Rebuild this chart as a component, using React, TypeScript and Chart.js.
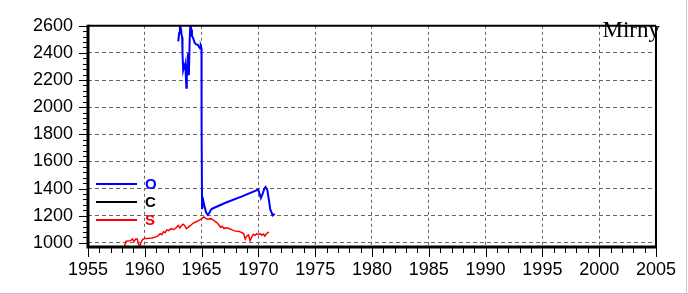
import React, { useEffect, useRef } from "react";
import { Chart, registerables } from "chart.js";

Chart.register(...registerables);

// ---- data ----
const xTickYears = [1955, 1960, 1965, 1970, 1975, 1980, 1985, 1990, 1995, 2000, 2005];
const yTickValues = [1000, 1200, 1400, 1600, 1800, 2000, 2200, 2400, 2600];

const oYears = [
  1962.94, 1963.03, 1963.09, 1963.18, 1963.23, 1963.29, 1963.32, 1963.38, 1963.46, 1963.52,
  1963.58, 1963.61, 1963.66, 1963.7, 1963.75, 1963.81, 1963.87, 1963.89, 1963.95, 1964.01,
  1964.09, 1964.15, 1964.27, 1964.39, 1964.52, 1964.67, 1964.76, 1964.87, 1964.93, 1964.99,
  1965.0, 1965.04, 1965.16, 1965.25, 1965.39, 1965.54, 1965.68, 1965.82, 1965.97, 1967.11,
  1968.56, 1969.99, 1970.14, 1970.22, 1970.37, 1970.52, 1970.63, 1970.78, 1970.92, 1971.04,
  1971.15, 1971.26, 1971.43,
];
const oValues = [
  2486, 2546, 2597, 2580, 2538, 2515, 2387, 2275, 2305, 2290,
  2317, 2236, 2143, 2290, 2236, 2398, 2317, 2236, 2492, 2620,
  2572, 2526, 2507, 2475, 2463, 2461, 2445, 2433, 2449, 2433,
  1864, 1248, 1307, 1272, 1225, 1206, 1220, 1244, 1253, 1295,
  1342, 1392, 1353, 1330, 1360, 1399, 1411, 1392, 1318, 1248,
  1225, 1202, 1213,
];

const cYears: number[] = [];
const cValues: number[] = [];

const sYears = [
  1958.2, 1958.34, 1958.5, 1958.77, 1958.91, 1959.05, 1959.2, 1959.34, 1959.43, 1959.55,
  1959.65, 1959.78, 1959.92, 1960.07, 1960.35, 1960.64, 1960.9, 1961.16, 1961.36, 1961.5,
  1961.65, 1961.8, 1961.93, 1962.1, 1962.31, 1962.5, 1962.65, 1962.8, 1962.94, 1963.09,
  1963.25, 1963.37, 1963.5, 1963.66, 1963.8, 1964.04, 1964.24, 1964.52, 1964.81, 1965.02,
  1965.19, 1965.35, 1965.54, 1965.82, 1966.11, 1966.4, 1966.68, 1966.8, 1966.98, 1967.15,
  1967.41, 1967.69, 1967.98, 1968.3, 1968.56, 1968.7, 1968.84, 1968.98, 1969.13, 1969.27,
  1969.4, 1969.56, 1969.7, 1969.85, 1970.0, 1970.14, 1970.3, 1970.45, 1970.57, 1970.72,
  1970.92,
];
const sValues = [
  969, 1011, 1014, 1016, 1028, 1010, 1028, 1028, 993, 969,
  1000, 1021, 1030, 1032, 1033, 1035, 1042, 1051, 1067, 1060,
  1081, 1075, 1095, 1090, 1105, 1098, 1102, 1114, 1128, 1109,
  1128, 1137, 1128, 1105, 1113, 1128, 1144, 1155, 1167, 1178,
  1190, 1180, 1174, 1178, 1164, 1144, 1114, 1122, 1105, 1110,
  1105, 1095, 1086, 1084, 1074, 1068, 1028, 1050, 1058, 1016,
  1040, 1063, 1055, 1067, 1060, 1067, 1056, 1065, 1049, 1067,
  1081,
];

const seriesNames = ["O", "C", "S"];
const seriesColors = ["#0000ff", "#000000", "#ff0000"];
const stationName = "Mirny";

const X_MIN = 1955;
const X_MAX = 2005;
const Y_MIN = 969;
const Y_MAX = 2600;

const toPoints = (xs: number[], ys: number[]) => xs.map((x, i) => ({ x, y: ys[i] }));

const decorPlugin = {
  id: "decor",
  afterDraw(chart: any) {
    const { ctx, chartArea } = chart;
    const { left, right, top, bottom } = chartArea;
    const xs = chart.scales.x;
    const ys = chart.scales.y;
    ctx.save();
    ctx.strokeStyle = "#000";
    ctx.lineWidth = 1;
    // x ticks
    for (let yr = X_MIN; yr <= X_MAX; yr++) {
      const px = Math.round(xs.getPixelForValue(yr)) + 0.5;
      const len = yr % 5 === 0 ? 10 : 6;
      ctx.beginPath();
      ctx.moveTo(px, bottom);
      ctx.lineTo(px, bottom + len);
      ctx.stroke();
    }
    // y ticks
    for (let v = 1000; v <= Y_MAX; v += 40) {
      const py = Math.round(ys.getPixelForValue(v)) + 0.5;
      const len = v % 200 === 0 ? 9 : 5;
      ctx.beginPath();
      ctx.moveTo(left, py);
      ctx.lineTo(left - len, py);
      ctx.stroke();
    }
    // frame
    ctx.lineWidth = 2;
    ctx.beginPath();
    ctx.moveTo(left, top);
    ctx.lineTo(right, top);
    ctx.moveTo(right, top);
    ctx.lineTo(right, bottom);
    ctx.stroke();
    ctx.lineWidth = 3;
    ctx.beginPath();
    ctx.moveTo(left, top - 1);
    ctx.lineTo(left, bottom + 1.5);
    ctx.moveTo(left - 1.5, bottom);
    ctx.lineTo(right + 1, bottom);
    ctx.stroke();

    // legend
    const legendY = [184, 202, 220];
    seriesNames.forEach((name, i) => {
      ctx.strokeStyle = seriesColors[i];
      ctx.lineWidth = 2;
      ctx.beginPath();
      ctx.moveTo(96, legendY[i]);
      ctx.lineTo(137, legendY[i]);
      ctx.stroke();
      ctx.fillStyle = seriesColors[i];
      ctx.font = "bold 15px 'Liberation Sans', Arial, sans-serif";
      ctx.textAlign = "left";
      ctx.textBaseline = "middle";
      ctx.fillText(name, 145, legendY[i] + 1);
    });

    // station name
    ctx.fillStyle = "#000";
    ctx.font = "23px 'Liberation Serif', 'Times New Roman', serif";
    ctx.textAlign = "right";
    ctx.textBaseline = "alphabetic";
    ctx.fillText(stationName, 660, 37);

    // outer image border
    ctx.strokeStyle = "#c8c8c8";
    ctx.lineWidth = 1;
    ctx.beginPath();
    ctx.moveTo(0, 293.5);
    ctx.lineTo(688, 293.5);
    ctx.moveTo(686.5, 0);
    ctx.lineTo(686.5, 294);
    ctx.stroke();
    ctx.restore();
  },
};

export default function App() {
  const ref = useRef<HTMLCanvasElement | null>(null);

  useEffect(() => {
    document.body.style.margin = "0";
    const canvas = ref.current;
    if (!canvas) return;
    const tickFont = { family: "'Liberation Sans', Arial, sans-serif", size: 18 };
    const chart = new Chart(canvas, {
      type: "line",
      data: {
        datasets: [
          {
            label: seriesNames[0],
            data: toPoints(oYears, oValues),
            borderColor: seriesColors[0],
            borderWidth: 2,
            pointRadius: 0,
            tension: 0,
          },
          {
            label: seriesNames[1],
            data: toPoints(cYears, cValues),
            borderColor: seriesColors[1],
            borderWidth: 2,
            pointRadius: 0,
            tension: 0,
          },
          {
            label: seriesNames[2],
            data: toPoints(sYears, sValues),
            borderColor: seriesColors[2],
            borderWidth: 1.5,
            pointRadius: 0,
            tension: 0,
          },
        ],
      },
      options: {
        responsive: false,
        animation: false,
        events: [],
        layout: { padding: { top: 13, right: 21, left: 0, bottom: 0 } },
        plugins: { legend: { display: false }, tooltip: { enabled: false } },
        scales: {
          x: {
            type: "linear",
            min: X_MIN,
            max: X_MAX,
            afterBuildTicks: (s: any) => {
              s.ticks = xTickYears.map((v) => ({ value: v }));
            },
            afterFit: (s: any) => {
              s.height = 47;
            },
            ticks: {
              font: tickFont,
              color: "#000",
              padding: 12,
              maxRotation: 0,
              autoSkip: false,
              callback: (v: any) => String(v),
            },
            grid: { color: "#666", lineWidth: 1, drawTicks: false },
            border: { display: false, dash: [3, 3] },
          },
          y: {
            type: "linear",
            min: Y_MIN,
            max: Y_MAX,
            afterBuildTicks: (s: any) => {
              s.ticks = yTickValues.map((v) => ({ value: v }));
            },
            afterFit: (s: any) => {
              s.width = 88;
            },
            ticks: {
              font: tickFont,
              color: "#000",
              padding: 15,
              autoSkip: false,
              callback: (v: any) => String(v),
            },
            grid: { color: "#666", lineWidth: 1, drawTicks: false },
            border: { display: false, dash: [4, 3] },
          },
        },
      },
      plugins: [decorPlugin],
    });
    return () => chart.destroy();
  }, []);

  return (
    <div style={{ width: 688, height: 294, background: "#fff" }}>
      <canvas ref={ref} width={688} height={294} style={{ display: "block" }} />
    </div>
  );
}
